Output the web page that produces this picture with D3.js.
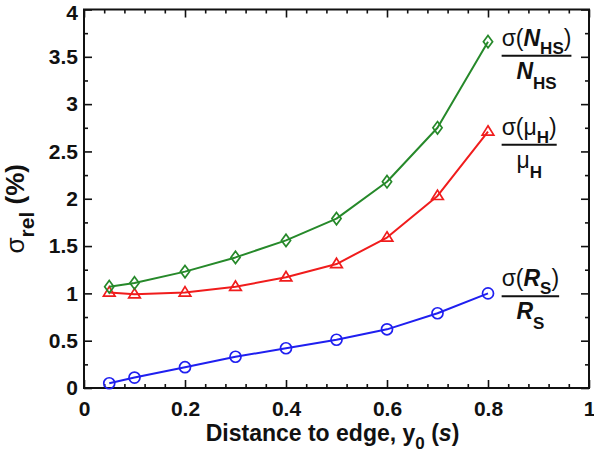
<!DOCTYPE html>
<html>
<head>
<meta charset="utf-8">
<script src="https://cdn.jsdelivr.net/npm/d3@7"></script>
<style>
  body { margin:0; background:#fff; }
  svg { display:block; font-family:"Liberation Sans", Arial, sans-serif; }
  .tick text { font-size:21px; font-weight:bold; fill:#111; }
</style>
</head>
<body>
<div id="chart"></div>
<script>
// distance to edge (s)
var yPos = [0.05, 0.1, 0.2, 0.3, 0.4, 0.5, 0.6, 0.7, 0.8];
// relative errors, %
var nhsRel = [1.07, 1.11, 1.23, 1.38, 1.56, 1.79, 2.18, 2.75, 3.66];
var muRel  = [1.01, 0.99, 1.01, 1.07, 1.17, 1.31, 1.59, 2.03, 2.71];
var rsRel  = [0.05, 0.11, 0.22, 0.33, 0.42, 0.51, 0.62, 0.79, 1.00];

var xTicks = [0, 0.2, 0.4, 0.6, 0.8, 1];
var xTickLabels = ['0', '0.2', '0.4', '0.6', '0.8', '1'];
var yTicks = [0, 0.5, 1, 1.5, 2, 2.5, 3, 3.5, 4];
var yTickLabels = ['0', '0.5', '1', '1.5', '2', '2.5', '3', '3.5', '4'];

var W = 594, H = 458;
var margin = {top:9.5, right:5, bottom:70, left:84};
var width = W - margin.left - margin.right;
var height = H - margin.top - margin.bottom;

var svg = d3.select('#chart').append('svg')
    .attr('width', W).attr('height', H);
var g = svg.append('g')
    .attr('transform', 'translate(' + margin.left + ',' + margin.top + ')');

var x = d3.scaleLinear().domain([0, 1]).range([0, width]);
var y = d3.scaleLinear().domain([0, 4]).range([height, 0]);

var xMinor = d3.range(0, 1.001, 0.04).filter(function(v) { return Math.abs(v / 0.2 - Math.round(v / 0.2)) > 1e-6; });
var yMinor = d3.range(0.25, 4, 0.5);

function styleAxis(sel) {
    sel.select('.domain').remove();
    sel.selectAll('.tick line').attr('stroke', '#111').attr('stroke-width', 1.6);
}

// major ticks + labels
g.append('g').attr('transform', 'translate(0,' + height + ')')
    .call(d3.axisBottom(x).tickValues(xTicks).tickSize(-8).tickPadding(13)
        .tickFormat(function(d, i) { return xTickLabels[i]; }))
    .call(styleAxis);
g.append('g')
    .call(d3.axisLeft(y).tickValues(yTicks).tickSize(-8).tickPadding(6)
        .tickFormat(function(d, i) { return yTickLabels[i]; }))
    .call(styleAxis)
    .selectAll('.tick text')
    .filter(function(d) { return d === 4; })
    .attr('dy', '0.48em');   // keep top label inside the page
// mirrored ticks top/right
g.append('g')
    .call(d3.axisTop(x).tickValues(xTicks).tickSize(-8).tickFormat(''))
    .call(styleAxis);
g.append('g').attr('transform', 'translate(' + width + ',0)')
    .call(d3.axisRight(y).tickValues(yTicks).tickSize(-8).tickFormat(''))
    .call(styleAxis);
// minor ticks
g.append('g').attr('transform', 'translate(0,' + height + ')')
    .call(d3.axisBottom(x).tickValues(xMinor).tickSize(-4).tickFormat(''))
    .call(styleAxis);
g.append('g')
    .call(d3.axisTop(x).tickValues(xMinor).tickSize(-4).tickFormat(''))
    .call(styleAxis);
g.append('g')
    .call(d3.axisLeft(y).tickValues(yMinor).tickSize(-4).tickFormat(''))
    .call(styleAxis);
g.append('g').attr('transform', 'translate(' + width + ',0)')
    .call(d3.axisRight(y).tickValues(yMinor).tickSize(-4).tickFormat(''))
    .call(styleAxis);

// frame
g.append('rect')
    .attr('width', width).attr('height', height)
    .attr('fill', 'none').attr('stroke', '#111').attr('stroke-width', 2);

var series = [
    {vals: rsRel,  color: '#1f1ff0', marker: 'circle'},
    {vals: muRel,  color: '#f01c1c', marker: 'triangle'},
    {vals: nhsRel, color: '#26892a', marker: 'diamond'}
];

var markerPath = {
    diamond: 'M0,-6.2L4.6,0L0,6.2L-4.6,0Z',
    triangle: 'M0,-5.8L5.8,3.6L-5.8,3.6Z',
    circle: d3.symbol().type(d3.symbolCircle).size(Math.PI * 5.5 * 5.5)()
};

var line = d3.line()
    .x(function(d) { return x(d.x); })
    .y(function(d) { return y(d.v); });

series.forEach(function(s) {
    var data = yPos.map(function(p, i) { return {x: p, v: s.vals[i]}; });
    g.append('path')
        .datum(data)
        .attr('fill', 'none')
        .attr('stroke', s.color)
        .attr('stroke-width', 2)
        .attr('stroke-linejoin', 'round')
        .attr('d', line);
    g.append('g').selectAll('path')
        .data(data)
        .enter()
        .append('path')
        .attr('d', markerPath[s.marker])
        .attr('transform', function(d) { return 'translate(' + x(d.x) + ',' + y(d.v) + ')'; })
        .attr('fill', 'none')
        .attr('stroke', s.color)
        .attr('stroke-width', 1.7);
});

// y label
var yl = svg.append('text')
    .attr('transform', 'translate(24,' + (margin.top + height / 2 + 10) + ') rotate(-90)')
    .attr('text-anchor', 'middle')
    .attr('font-size', 26).attr('font-weight', 'bold').attr('fill', '#111');
yl.append('tspan').attr('font-weight', 'normal').text('σ');
yl.append('tspan').attr('font-size', 21).attr('dy', 10).text('rel');
yl.append('tspan').attr('dy', -10).text(' (%)');

// x label
var xl = svg.append('text')
    .attr('x', margin.left + width / 2 - 4).attr('y', 441)
    .attr('text-anchor', 'middle')
    .attr('font-size', 23).attr('font-weight', 'bold').attr('fill', '#111');
xl.append('tspan').text('Distance to edge, y');
xl.append('tspan').attr('font-size', 17).attr('dy', 8).text('0');
xl.append('tspan').attr('dy', -8).text(' (');
xl.append('tspan').attr('font-style', 'italic').text('s');
xl.append('tspan').text(')');

// fraction labels next to the curves
var fracs = [
    {at: 3.51, sym: 'N', italic: true, sub: 'HS', greek: false},
    {at: 2.57, sym: 'μ', italic: false, sub: 'H', greek: true},
    {at: 0.97, sym: 'R', italic: true, sub: 'S', greek: false}
];
var fx = margin.left + x(0.827);

fracs.forEach(function(f) {
    var L = margin.top + y(f.at);
    var fg = svg.append('g').attr('fill', '#111');
    var num = fg.append('text')
        .attr('x', fx).attr('y', L - 10)
        .attr('font-size', 23).attr('font-weight', 'bold');
    num.append('tspan').attr('font-weight', 'normal').text('σ(');
    num.append('tspan')
        .attr('font-style', f.italic ? 'italic' : 'normal')
        .attr('font-weight', f.greek ? 'normal' : 'bold')
        .text(f.sym);
    num.append('tspan').attr('font-size', 17).attr('dy', 8).text(f.sub);
    num.append('tspan').attr('font-weight', 'normal').attr('dy', -8).text(')');
    var w = num.node().getComputedTextLength();

    fg.append('line')
        .attr('x1', fx).attr('x2', fx + w)
        .attr('y1', L).attr('y2', L)
        .attr('stroke', '#111').attr('stroke-width', 2);

    var den = fg.append('text')
        .attr('x', fx + w / 2).attr('y', L + 23)
        .attr('text-anchor', 'middle')
        .attr('font-size', 23).attr('font-weight', 'bold');
    den.append('tspan')
        .attr('font-style', f.italic ? 'italic' : 'normal')
        .attr('font-weight', f.greek ? 'normal' : 'bold')
        .text(f.sym);
    den.append('tspan').attr('font-size', 17).attr('dy', 10).text(f.sub);
});
</script>
</body>
</html>
